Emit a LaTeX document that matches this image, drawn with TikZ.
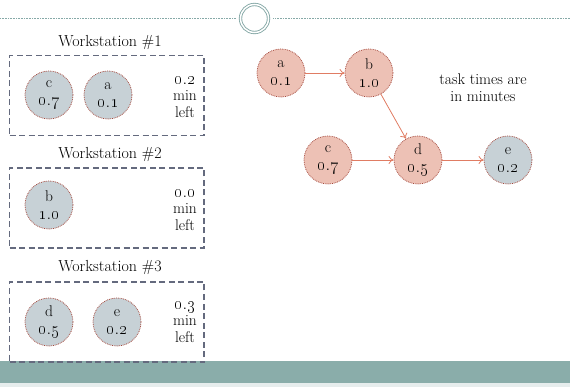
\documentclass[tikz,border=0pt]{standalone}
\usetikzlibrary{arrows.meta}
\definecolor{taskpink}{HTML}{EDC1B5}
\definecolor{taskgrey}{HTML}{C7D1D6}
\definecolor{taskrim}{HTML}{A4493D}
\definecolor{boxline}{HTML}{646A7E}
\definecolor{flow}{HTML}{E07C63}
\definecolor{rule}{HTML}{86A9A7}
\definecolor{band}{HTML}{8AADAA}
\definecolor{bandedge}{HTML}{E6EDED}
% a decimal in old-style figures: \os{0}{7} gives 0.7
\newcommand\os[2]{{\fontsize{18.5}{18}\selectfont\oldstylenums{#1}\kern0.3pt.\kern0.3pt\oldstylenums{#2}}}

\begin{document}
\begin{tikzpicture}[x=1pt,y=-1pt,
  task/.style={circle,draw=taskrim,densely dotted,line width=0.8pt,minimum size=48pt,
    inner sep=0pt,align=center,font=\fontsize{15.5}{17.5}\selectfont},
  done/.style={task,fill=taskgrey},
  todo/.style={task,fill=taskpink},
  station/.style={draw=boxline,line width=1.9pt,dash pattern=on 6pt off 3.5pt,
    minimum width=194.5pt,minimum height=80pt,inner sep=0pt},
  note/.style={align=center,font=\fontsize{15.5}{16.5}\selectfont},
  caption/.style={font=\fontsize{16}{18}\selectfont},
  flowarrow/.style={draw=flow,line width=0.8pt,-{To[length=5pt,width=8pt]}}
]
\useasboundingbox (0,0) rectangle (570,387);

% header rule with the ring in the middle
\node[circle,draw=rule,double,double distance=1.5pt,line width=0.9pt,
  minimum size=28pt,inner sep=0pt] (knot) at (254.5,18.5) {};
\coordinate (ruleL) at (0,18.5);
\coordinate (ruleR) at (570,18.5);
\draw[rule,densely dotted,line width=0.6pt,shorten >=4pt] (ruleL) -- (knot);
\draw[rule,densely dotted,line width=0.6pt,shorten >=4pt] (ruleR) -- (knot);

% footer band
\fill[band] (0,361) rectangle (570,383);
\fill[bandedge] (0,383) rectangle (570,387);

% workstation 1
\node[caption] (t1) at (110,43) {Workstation \#1};
\node[station] (ws1) at (106.75,95.5) {};
\node[done] (c1) at (49,95) {c\\\os{0}{7}};
\node[done] (a1) at (108,95) {a\\\os{0}{1}};
\node[note] (r1) at (185,97) {\os{0}{2}\\min\\left};

% workstation 2
\node[caption] (t2) at (110,155) {Workstation \#2};
\node[station] (ws2) at (106.75,208) {};
\node[done] (b2) at (49,205) {b\\\os{1}{0}};
\node[note] (r2) at (185,210) {\os{0}{0}\\min\\left};

% workstation 3
\node[caption] (t3) at (110,268) {Workstation \#3};
\node[station] (ws3) at (106.75,322) {};
\node[done] (d3) at (49,322) {d\\\os{0}{5}};
\node[done] (e3) at (117,322) {e\\\os{0}{2}};
\node[note] (r3) at (185,322) {\os{0}{3}\\min\\left};

% precedence graph
\node[todo] (ga) at (281,73) {a\\\os{0}{1}};
\node[todo] (gb) at (369,73) {b\\\os{1}{0}};
\node[todo] (gc) at (328,160) {c\\\os{0}{7}};
\node[todo] (gd) at (418,160) {d\\\os{0}{5}};
\node[done] (ge) at (508,160) {e\\\os{0}{2}};
\node[note] (tt) at (483,87.5) {task times are\\in minutes};

\draw[flowarrow] (ga) -- (gb);
\draw[flowarrow] (gb) -- (gd);
\draw[flowarrow] (gc) -- (gd);
\draw[flowarrow] (gd) -- (ge);
\end{tikzpicture}
\end{document}
